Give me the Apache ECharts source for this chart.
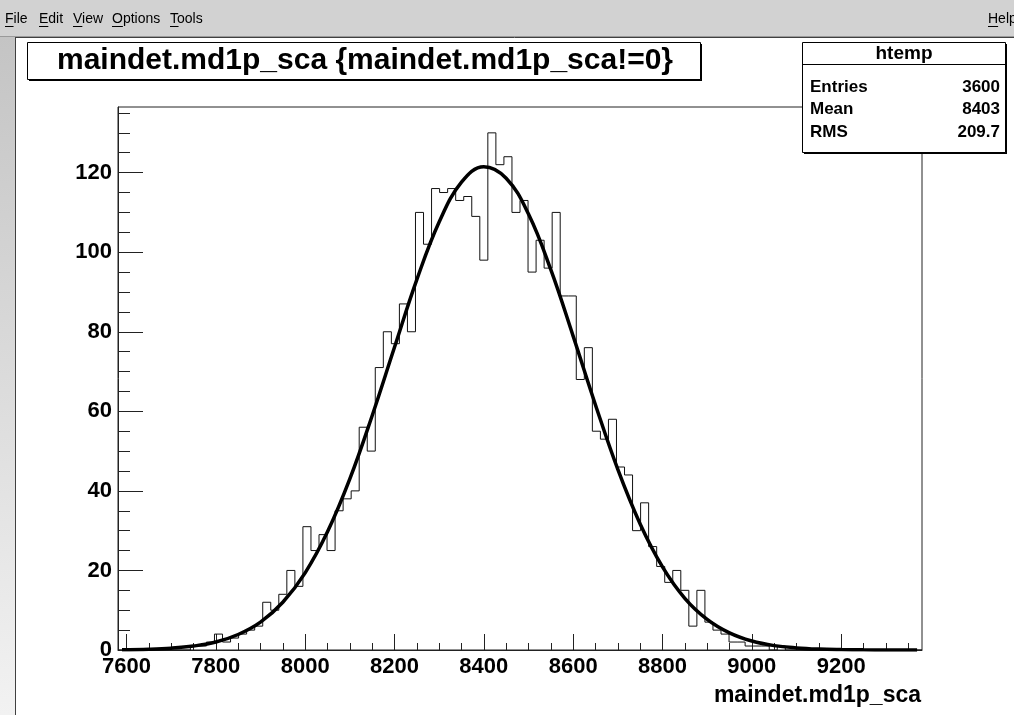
<!DOCTYPE html>
<html><head><meta charset="utf-8">
<script src="https://cdn.jsdelivr.net/npm/echarts@6/dist/echarts.min.js"></script>
<style>html,body{margin:0;padding:0;background:#fff}#c{width:1014px;height:715px}</style>
</head><body><div id="c"></div>
<script>
// ---------------- data ----------------
const binLow = 7581;          // lower edge of first bin
const binWidth = 18;          // bin width
const binCounts = [
  0,0,0,0,0,0,0,0,0,1,
  1,2,4,2,3,4,5,6,12,10,
  14,20,16,31,25,29,25,35,38,40,
  56,50,71,80,77,87,80,110,102,116,
  115,116,113,114,109,98,130,122,124,110,
  113,95,103,96,110,89,89,68,76,55,
  53,58,46,44,30,37,26,21,17,20,
  15,6,15,7,5,4,2,2,1,1,
  1,0,1,0,0,0,0,0,0,0,
  0,0,0,0,0,0,0,0,0,0
];
const fitX = [7590,7650,7700,7750,7800,7850,7900,7950,8000,8050,8100,8150,8200,8250,8300,8350,8400,8450,8500,8550,8600,8650,8700,8750,8800,8850,8900,8950,9000,9050,9100,9150,9200,9250,9300,9370];
const fitY = [0.07,0.2,0.46,1.0,2.0,3.9,7.0,12.0,19.4,29.7,43.0,58.9,76.1,93.1,107.6,117.6,121.5,118.6,109.6,95.6,78.9,61.6,45.4,31.7,20.9,13.0,7.7,4.3,2.25,1.1,0.53,0.23,0.1,0.04,0.015,0.003];
const xTickValues = [7600,7800,8000,8200,8400,8600,8800,9000,9200];
const xMinorTickValues = [7650,7700,7750,7850,7900,7950,8050,8100,8150,8250,8300,8350,8450,8500,8550,8650,8700,8750,8850,8900,8950,9050,9100,9150,9250,9300,9350];
const yTickValues = [0,20,40,60,80,100,120];
const yMinorTickValues = [5,10,15,25,30,35,45,50,55,65,70,75,85,90,95,105,110,115,125,130,135];
const titleText = 'maindet.md1p_sca {maindet.md1p_sca!=0}';
const xAxisTitle = 'maindet.md1p_sca';
const statsName = 'htemp';
const statsLabels = ['Entries','Mean','RMS'];
const statsValues = ['3600','8403','209.7'];
const menuItems = ['File','Edit','View','Options','Tools'];
const helpItem = 'Help';

// ---------------- derived ----------------
const xMax = binLow + binCounts.length * binWidth;
const yMax = Math.max(...binCounts) * 1.05;
const histPts = [[binLow, 0]];
binCounts.forEach((c, i) => {
  const a = binLow + i * binWidth;
  histPts.push([a, c], [a + binWidth, c]);
});
histPts.push([xMax, 0]);
const fitPts = fitX.map((x, i) => [x, fitY[i]]);

// ---------------- layout / style ----------------
const FONT = '"Liberation Sans", Arial, Helvetica, sans-serif';
const menuX = [5, 39, 73, 112, 170];
const mctx = document.createElement('canvas').getContext('2d');
mctx.font = '14px ' + FONT;

const graphics = [];
// menu bar
graphics.push({type:'rect', shape:{x:0,y:0,width:1014,height:37}, style:{fill:'#d2d2d2'}, z:1});
graphics.push({type:'line', shape:{x1:0,y1:36.5,x2:1014,y2:36.5}, style:{stroke:'#9a9a9a',lineWidth:1}, z:2});
// left strip
graphics.push({type:'rect', shape:{x:0,y:37,width:15,height:678},
  style:{fill:new echarts.graphic.LinearGradient(0,0,0,1,[{offset:0,color:'#c4c4c4'},{offset:1,color:'#f2f2f2'}])}, z:1});
graphics.push({type:'line', shape:{x1:15.5,y1:37,x2:15.5,y2:715}, style:{stroke:'#404040',lineWidth:1}, z:2});
graphics.push({type:'line', shape:{x1:15,y1:37.5,x2:1014,y2:37.5}, style:{stroke:'#404040',lineWidth:1}, z:2});
menuItems.forEach((t, i) => {
  graphics.push({type:'text', x:menuX[i], y:19, style:{text:t, font:'14px ' + FONT, fill:'#000', verticalAlign:'middle'}, z:3});
  const w = mctx.measureText(t[0]).width;
  graphics.push({type:'line', shape:{x1:menuX[i], y1:26.5, x2:menuX[i]+w, y2:26.5}, style:{stroke:'#000', lineWidth:1}, z:3});
});
graphics.push({type:'text', x:988, y:19, style:{text:helpItem, font:'14px ' + FONT, fill:'#000', verticalAlign:'middle'}, z:3});
graphics.push({type:'line', shape:{x1:988, y1:26.5, x2:988+mctx.measureText('H').width, y2:26.5}, style:{stroke:'#000', lineWidth:1}, z:3});

// title box
graphics.push({type:'rect', shape:{x:29,y:44,width:673,height:37}, style:{fill:'#000'}, z:100});
graphics.push({type:'rect', shape:{x:27.5,y:42.5,width:673,height:37}, style:{fill:'#fff', stroke:'#000', lineWidth:1}, z:101});
graphics.push({type:'text', x:365, y:61, style:{text:titleText, font:'bold 30px ' + FONT, fill:'#000', align:'center', verticalAlign:'middle'}, z:102});

// stats box
graphics.push({type:'rect', shape:{x:804,y:44,width:203,height:110}, style:{fill:'#000'}, z:100});
graphics.push({type:'rect', shape:{x:802.5,y:42.5,width:203,height:110}, style:{fill:'#fff', stroke:'#000', lineWidth:1}, z:101});
graphics.push({type:'line', shape:{x1:802.5,y1:64.5,x2:1005.5,y2:64.5}, style:{stroke:'#000', lineWidth:1}, z:102});
graphics.push({type:'text', x:904, y:54, style:{text:statsName, font:'bold 19px ' + FONT, fill:'#000', align:'center', verticalAlign:'middle'}, z:102});
statsLabels.forEach((t, i) => {
  const yy = 87 + i * 22.5;
  graphics.push({type:'text', x:810, y:yy, style:{text:t, font:'bold 17px ' + FONT, fill:'#000', verticalAlign:'middle'}, z:102});
  graphics.push({type:'text', x:1000, y:yy, style:{text:statsValues[i], font:'bold 17px ' + FONT, fill:'#000', align:'right', verticalAlign:'middle'}, z:102});
});

const plain = v => String(v);
const labelStyle = {fontFamily: FONT, fontWeight:'bold', fontSize:22, color:'#000', formatter: plain};
const chart = echarts.init(document.getElementById('c'), null, {renderer:'canvas'});
chart.setOption({
  animation:false,
  backgroundColor:'#fff',
  grid:{left:118, right:92, top:107, bottom:65, show:true, borderColor:'#222', borderWidth:1, backgroundColor:'transparent'},
  xAxis:[
    {type:'value', min:binLow, max:xMax, position:'bottom',
     axisLine:{show:true, onZero:false, lineStyle:{color:'#222', width:1}},
     axisTick:{show:true, inside:true, length:16, customValues:xTickValues, lineStyle:{color:'#222', width:1}},
     axisLabel:Object.assign({customValues:xTickValues, margin:6}, labelStyle),
     splitLine:{show:false},
     name:xAxisTitle, nameLocation:'end', nameGap:-1,
     nameTextStyle:{fontFamily:FONT, fontWeight:'bold', fontSize:23, color:'#000', align:'right', verticalAlign:'top', padding:[34,0,0,0]}},
    {type:'value', min:binLow, max:xMax, position:'bottom',
     axisLine:{show:false},
     axisTick:{show:true, inside:true, length:7, customValues:xMinorTickValues, lineStyle:{color:'#222', width:1}},
     axisLabel:{show:false}, splitLine:{show:false}}
  ],
  yAxis:[
    {type:'value', min:0, max:yMax, position:'left',
     axisLine:{show:true, onZero:false, lineStyle:{color:'#222', width:1}},
     axisTick:{show:true, inside:true, length:25, customValues:yTickValues, lineStyle:{color:'#222', width:1}},
     axisLabel:Object.assign({customValues:yTickValues, margin:6}, labelStyle),
     splitLine:{show:false}},
    {type:'value', min:0, max:yMax, position:'left',
     axisLine:{show:false},
     axisTick:{show:true, inside:true, length:12, customValues:yMinorTickValues, lineStyle:{color:'#222', width:1}},
     axisLabel:{show:false}, splitLine:{show:false}}
  ],
  series:[
    {type:'line', name:'htemp', data:histPts, xAxisIndex:0, yAxisIndex:0, symbol:'none',
     lineStyle:{color:'#111', width:1}, z:3, silent:true},
    {type:'line', name:'fit', data:fitPts, xAxisIndex:0, yAxisIndex:0, symbol:'none', smooth:0.4,
     lineStyle:{color:'#000', width:3.5}, z:4, silent:true}
  ],
  graphic:graphics
});
</script></body></html>
